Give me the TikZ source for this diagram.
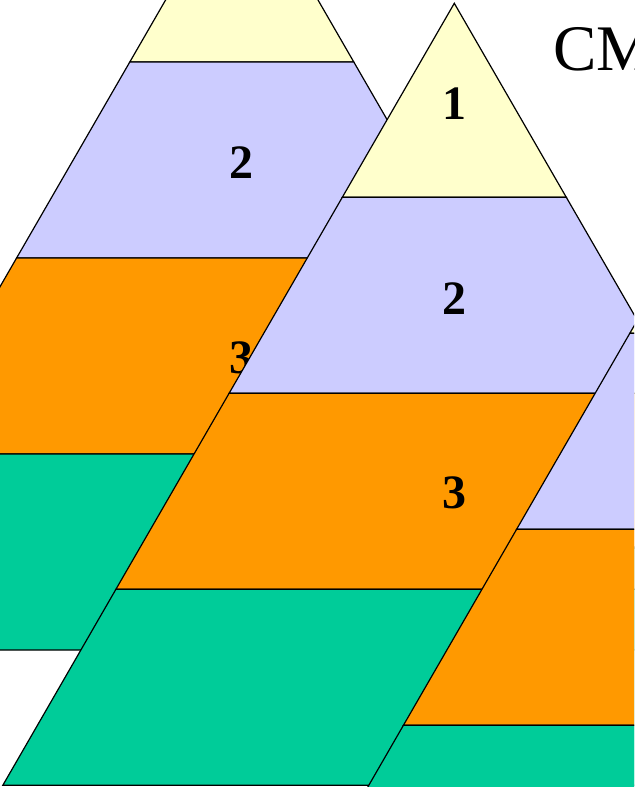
\documentclass[tikz,border=0pt]{standalone}
\usepackage{fontspec}
\setmainfont{Liberation Serif}
\usepackage{tikz}
\usepackage{xcolor}
\usetikzlibrary{calc}
\definecolor{Pyr_Yellow}{HTML}{FFFFCC}
\definecolor{Pyr_Lilac}{HTML}{CCCCFF}
\definecolor{Pyr_Orange}{HTML}{FF9900}
\definecolor{Pyr_Green}{HTML}{00CC99}

\begin{document}
\begin{tikzpicture}[x=0.5pt, y=-0.5pt,
    band/.style={draw=black, line width=0.6pt},
    num/.style={font=\fontsize{24}{24}\selectfont\bfseries}]
    % Frame of the slide
    \useasboundingbox (0,0) rectangle (634,787);
    \clip (0,0) rectangle (634,787);

    % Back pyramid
    \begin{scope}[shift={(241.8,-132)}]
        \filldraw[band, fill=Pyr_Yellow] (0,0) -- (112,194) -- (-112,194) -- cycle;
        \filldraw[band, fill=Pyr_Lilac] (-112,194) -- (112,194) -- (225.2,390) -- (-225.2,390) -- cycle;
        \filldraw[band, fill=Pyr_Orange] (-225.2,390) -- (225.2,390) -- (338.4,586) -- (-338.4,586) -- cycle;
        \filldraw[band, fill=Pyr_Green] (-338.4,586) -- (338.4,586) -- (451.5,782) -- (-451.5,782) -- cycle;
        \node[num] (backTwo) at (0,295) {2};
        \node[num] (backThree) at (0,490) {3};
    \end{scope}

    % Middle pyramid
    \begin{scope}[shift={(454.3,3.3)}]
        \filldraw[band, fill=Pyr_Yellow] (0,0) -- (112,194) -- (-112,194) -- cycle;
        \filldraw[band, fill=Pyr_Lilac] (-112,194) -- (112,194) -- (225.2,390) -- (-225.2,390) -- cycle;
        \filldraw[band, fill=Pyr_Orange] (-225.2,390) -- (225.2,390) -- (338.4,586) -- (-338.4,586) -- cycle;
        \filldraw[band, fill=Pyr_Green] (-338.4,586) -- (338.4,586) -- (451.5,782) -- (-451.5,782) -- cycle;
        \node[num] (midOne) at (0,100) {1};
        \node[num] (midTwo) at (0,295) {2};
        \node[num] (midThree) at (0,490) {3};
    \end{scope}

    % Front pyramid
    \begin{scope}[shift={(741.8,139.3)}]
        \filldraw[band, fill=Pyr_Yellow] (0,0) -- (112,194) -- (-112,194) -- cycle;
        \filldraw[band, fill=Pyr_Lilac] (-112,194) -- (112,194) -- (225.2,390) -- (-225.2,390) -- cycle;
        \filldraw[band, fill=Pyr_Orange] (-225.2,390) -- (225.2,390) -- (338.4,586) -- (-338.4,586) -- cycle;
        \filldraw[band, fill=Pyr_Green] (-338.4,586) -- (338.4,586) -- (451.5,782) -- (-451.5,782) -- cycle;
    \end{scope}

    % Title
    \node[anchor=base west, inner sep=0pt, font=\fontsize{32.5}{32.5}\selectfont] (title) at (553,70) {CM};

\end{tikzpicture}
\end{document}
